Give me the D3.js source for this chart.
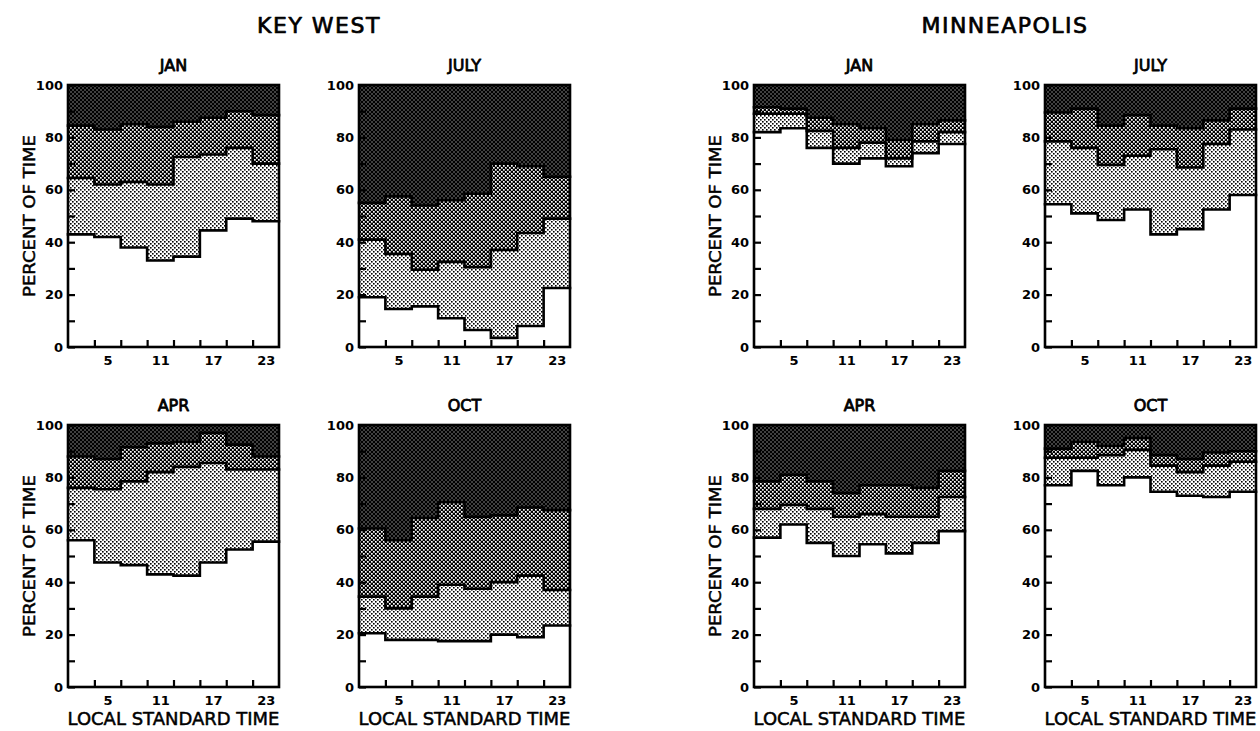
<!DOCTYPE html>
<html>
<head>
<meta charset="utf-8">
<script src="https://cdn.jsdelivr.net/npm/d3@7"></script>
<style>
  html, body { margin: 0; padding: 0; background: #fff; }
  svg { display: block; }
  text { font-family: "DejaVu Sans", sans-serif; fill: #000; }
</style>
</head>
<body>
<svg id="chart" width="1260" height="731"></svg>
<script>
// ---------------- DATA ----------------
// 3-hourly observation times (local standard time)
const hours = [2, 5, 8, 11, 14, 17, 20, 23];
const xTickLabels = [5, 11, 17, 23];
const yTickValues = [0, 10, 20, 30, 40, 50, 60, 70, 80, 90, 100];
const yTickLabels = [0, 20, 40, 60, 80, 100];
const layerKeys = ["layer1", "layer2", "layer3", "layer4"]; // bottom (white) .. top (dark)
const cities = ["KEY WEST", "MINNEAPOLIS"];
const months = ["JAN", "JULY", "APR", "OCT"];

// Percent of time in each layer (layer4 = remainder to 100)
const kwJanL1 = [43, 42, 38, 33, 34.5, 44.5, 49, 48];
const kwJanL2 = [21.5, 20, 25, 29, 38, 29, 27, 22];
const kwJanL3 = [20, 21, 22, 22, 13.5, 14, 14, 18.5];

const kwJulL1 = [19, 14.5, 15.5, 11, 6.5, 3.5, 8, 22.5];
const kwJulL2 = [22, 21, 14, 21.5, 24, 33.5, 35.5, 26.5];
const kwJulL3 = [14, 22, 24.5, 23.5, 28, 33, 25.5, 16];

const kwAprL1 = [56, 47.5, 46.5, 43, 42.5, 47.5, 52.5, 55.5];
const kwAprL2 = [20, 28, 32, 39, 41.5, 38, 30.5, 27.5];
const kwAprL3 = [12, 11.5, 13, 11, 9.5, 11.5, 9.5, 5];

const kwOctL1 = [20.5, 18, 18, 17.5, 17.5, 20, 19, 23.5];
const kwOctL2 = [14, 12, 16.5, 21.5, 20, 20, 23.5, 13.5];
const kwOctL3 = [26, 26, 30, 31.5, 27.5, 25.5, 26, 30.5];

const msJanL1 = [82, 83.5, 76, 70, 72, 69, 74, 77.5];
const msJanL2 = [7, 5.5, 6.5, 6, 6, 3, 4.5, 4.5];
const msJanL3 = [2.5, 2, 5, 9, 5.5, 7, 6.5, 4.5];

const msJulL1 = [54.5, 51, 48.5, 52.5, 43, 45, 52.5, 58];
const msJulL2 = [24, 25, 21, 20.5, 32.5, 23.5, 25, 25];
const msJulL3 = [11, 15, 15, 15.5, 9, 15, 9, 8];

const msAprL1 = [57, 62, 55, 50, 54.5, 51, 55, 59.5];
const msAprL2 = [11, 7.5, 13, 15, 11.5, 14, 10, 13];
const msAprL3 = [10.5, 11.5, 10.5, 9, 11, 12, 11, 10];

const msOctL1 = [77, 82.5, 77, 80, 74.5, 73, 72.5, 74.5];
const msOctL2 = [10.5, 5, 11.5, 10.5, 10, 9, 12, 11.5];
const msOctL3 = [3.5, 6, 3.5, 4.5, 4, 5, 5, 4];

// ---------------- LAYOUT ----------------
const panels = [
  { city: 0, month: 0, col: 0, row: 0, l1: kwJanL1, l2: kwJanL2, l3: kwJanL3 },
  { city: 0, month: 1, col: 1, row: 0, l1: kwJulL1, l2: kwJulL2, l3: kwJulL3 },
  { city: 0, month: 2, col: 0, row: 1, l1: kwAprL1, l2: kwAprL2, l3: kwAprL3 },
  { city: 0, month: 3, col: 1, row: 1, l1: kwOctL1, l2: kwOctL2, l3: kwOctL3 },
  { city: 1, month: 0, col: 2, row: 0, l1: msJanL1, l2: msJanL2, l3: msJanL3 },
  { city: 1, month: 1, col: 3, row: 0, l1: msJulL1, l2: msJulL2, l3: msJulL3 },
  { city: 1, month: 2, col: 2, row: 1, l1: msAprL1, l2: msAprL2, l3: msAprL3 },
  { city: 1, month: 3, col: 3, row: 1, l1: msOctL1, l2: msOctL2, l3: msOctL3 }
];
const colX = [68, 359, 754, 1045];
const rowY = [85, 425];
const PW = 211, PH = 262;

const svg = d3.select("#chart");

// patterns
const defs = svg.append("defs");
function pat(id, bg, fg, cells) {
  const p = defs.append("pattern").attr("id", id)
    .attr("patternUnits", "userSpaceOnUse").attr("width", 4).attr("height", 4);
  p.append("rect").attr("width", 4).attr("height", 4).attr("fill", bg);
  cells.forEach(c => p.append("rect").attr("x", c[0]).attr("y", c[1])
    .attr("width", c[2]).attr("height", c[2]).attr("fill", fg));
}
pat("pL2", "#fff", "#000", [[0, 0, 1.6], [2, 2, 1.6]]);
pat("pL3", "#000", "#fff", [[0, 0, 1.7], [2, 2, 1.7]]);
pat("pL4", "#000", "#fff", [[0.5, 0.5, 1], [2.5, 2.5, 1]]);
const fills = ["#ffffff", "url(#pL2)", "url(#pL3)", "url(#pL4)"];

// medium-weight lettering: regular glyphs with a thin outline
function medium(sel, w) {
  return sel.attr("font-weight", "normal").attr("stroke", "#000")
    .attr("stroke-width", w).attr("stroke-linejoin", "round");
}

// city titles
cities.forEach((c, i) => {
  const cx = (colX[i * 2] + colX[i * 2 + 1] + PW) / 2;
  medium(svg.append("text").attr("x", cx).attr("y", 33)
    .attr("text-anchor", "middle").attr("font-size", 22)
    .attr("letter-spacing", 1.5).text(c), 0.7);
});

const stack = d3.stack().keys(layerKeys);

panels.forEach(p => {
  const x0 = colX[p.col], y0 = rowY[p.row];
  const g = svg.append("g").attr("transform", `translate(${x0},${y0})`);
  const x = d3.scaleLinear().domain([0.5, 24.5]).range([0, PW]);
  const y = d3.scaleLinear().domain([0, 100]).range([PH, 0]);

  const rows = hours.map((h, i) => ({
    hour: h,
    layer1: p.l1[i], layer2: p.l2[i], layer3: p.l3[i],
    layer4: 100 - p.l1[i] - p.l2[i] - p.l3[i]
  }));
  // append an end point so the last step extends to the right edge
  rows.push(Object.assign({}, rows[rows.length - 1], { end: true }));
  const series = stack(rows);
  const xs = (d, i) => i === rows.length - 1 ? x(24.5) : x(hours[i] - 1.5);

  const area = d3.area().curve(d3.curveStepAfter)
    .x((d, i) => xs(d, i)).y0(d => y(d[0])).y1(d => y(d[1]));
  const line = d3.line().curve(d3.curveStepAfter)
    .x((d, i) => xs(d, i)).y(d => y(d[1]));

  g.selectAll("path.area").data(series).join("path")
    .attr("class", "area").attr("d", area)
    .attr("fill", (d, i) => fills[i]).attr("stroke", "none");

  g.selectAll("path.bound").data(series.slice(0, 3)).join("path")
    .attr("class", "bound").attr("d", line)
    .attr("fill", "none").attr("stroke", "#000").attr("stroke-width", 2.6)
    .attr("stroke-linejoin", "miter").attr("stroke-linecap", "square");

  // frame
  g.append("rect").attr("x", 0).attr("y", 0).attr("width", PW).attr("height", PH)
    .attr("fill", "none").attr("stroke", "#000").attr("stroke-width", 2.6);

  // y axis (ticks inward)
  const yAxis = d3.axisLeft(y).tickValues(yTickValues)
    .tickSizeInner(-7).tickSizeOuter(0).tickPadding(5)
    .tickFormat(v => yTickLabels.includes(v) ? String(v) : "");
  const ya = g.append("g").call(yAxis);
  ya.select(".domain").remove();
  ya.selectAll(".tick line").attr("stroke", "#000").attr("stroke-width", 2.2);
  ya.selectAll(".tick text").attr("font-size", 13).attr("font-weight", "bold")
    .attr("font-family", "DejaVu Sans").attr("fill", "#000");

  // x axis boundary ticks (inward)
  const bounds = hours.slice(1).map(h => h - 1.5);
  const xAxisT = d3.axisBottom(x).tickValues(bounds)
    .tickSizeInner(-7).tickSizeOuter(0).tickFormat("");
  const xa = g.append("g").attr("transform", `translate(0,${PH})`).call(xAxisT);
  xa.select(".domain").remove();
  xa.selectAll(".tick line").attr("stroke", "#000").attr("stroke-width", 2.2);

  // x tick labels
  const xAxisL = d3.axisBottom(x).tickValues(xTickLabels).tickSize(0).tickPadding(9);
  const xl = g.append("g").attr("transform", `translate(0,${PH})`).call(xAxisL);
  xl.select(".domain").remove();
  xl.selectAll(".tick text").attr("font-size", 13).attr("font-weight", "bold")
    .attr("font-family", "DejaVu Sans").attr("fill", "#000");

  // panel title
  medium(g.append("text").attr("x", PW / 2).attr("y", -14)
    .attr("text-anchor", "middle").attr("font-size", 16)
    .text(months[p.month]), 0.8);

  // y label on left panels
  if (p.col % 2 === 0) {
    medium(g.append("text")
      .attr("transform", `translate(-39,${PH / 2}) rotate(-90)`)
      .attr("text-anchor", "middle").attr("dy", "0.35em")
      .attr("font-size", 16)
      .attr("textLength", 162).attr("lengthAdjust", "spacingAndGlyphs")
      .text("PERCENT OF TIME"), 0.5);
  }
  // x label on bottom panels
  if (p.row === 1) {
    medium(g.append("text").attr("x", PW / 2).attr("y", PH + 38)
      .attr("text-anchor", "middle").attr("font-size", 18)
      .attr("textLength", 212).attr("lengthAdjust", "spacingAndGlyphs")
      .text("LOCAL STANDARD TIME"), 0.5);
  }
});
</script>
</body>
</html>
